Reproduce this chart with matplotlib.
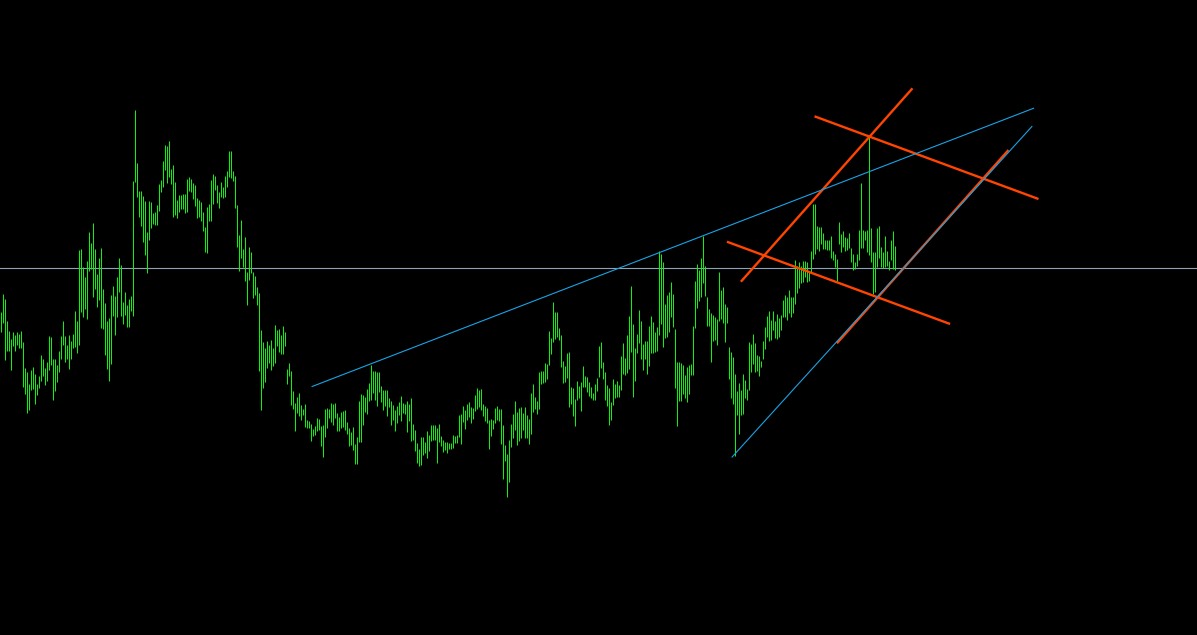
import numpy as np
import matplotlib
matplotlib.use('Agg')
import matplotlib.pyplot as plt

# ---- bar data (chart levels, larger value = lower on screen) ----
bar_high = [
    312, 294, 299, 321, 331, 339, 332, 335, 332, 334, 331, 342, 368, 372, 384, 370, 367, 374, 384, 376,
    355, 359, 368, 362, 336, 337, 359, 359, 365, 351, 336, 321, 336, 345, 335, 341, 334, 311, 321, 250,
    249, 267, 277, 261, 232, 243, 223, 249, 274, 258, 248, 289, 303, 321, 318, 295, 286, 296, 277, 258,
    265, 302, 292, 305, 299, 296, 181, 110, 163, 191, 191, 196, 201, 232, 201, 202, 213, 212, 205, 184,
    180, 161, 145, 146, 141, 169, 165, 182, 200, 195, 195, 194, 194, 179, 177, 179, 183, 185, 198, 200,
    202, 212, 227, 207, 204, 180, 174, 176, 185, 192, 182, 187, 176, 171, 151, 151, 171, 176, 205, 235,
    220, 249, 237, 272, 247, 252, 272, 276, 287, 293, 330, 342, 348, 341, 345, 340, 348, 325, 330, 329,
    335, 326, 332, 369, 363, 371, 391, 403, 397, 393, 405, 409, 404, 420, 421, 424, 429, 426, 418, 419,
    426, 425, 409, 408, 409, 403, 404, 403, 413, 417, 412, 411, 410, 422, 428, 432, 427, 444, 437, 401,
    394, 395, 397, 389, 383, 365, 371, 371, 372, 372, 386, 390, 390, 390, 398, 401, 405, 410, 406, 402,
    396, 403, 404, 401, 404, 398, 424, 430, 443, 449, 437, 437, 442, 431, 435, 425, 425, 425, 428, 424,
    436, 440, 442, 442, 443, 443, 435, 436, 435, 415, 414, 406, 410, 404, 402, 407, 408, 395, 388, 390,
    389, 404, 406, 408, 420, 419, 420, 408, 406, 409, 409, 425, 445, 454, 440, 424, 414, 401, 412, 408,
    407, 413, 407, 415, 419, 393, 384, 397, 401, 372, 371, 371, 363, 364, 331, 338, 302, 312, 312, 328,
    335, 361, 366, 353, 352, 387, 388, 399, 381, 386, 382, 366, 376, 377, 382, 387, 393, 384, 378, 346,
    342, 362, 372, 385, 388, 402, 379, 384, 381, 385, 356, 343, 358, 335, 316, 286, 324, 348, 334, 310,
    321, 344, 341, 341, 326, 316, 322, 332, 327, 251, 254, 262, 304, 295, 292, 282, 294, 329, 362, 362,
    363, 365, 375, 367, 365, 364, 326, 281, 264, 270, 258, 236, 266, 297, 309, 313, 315, 317, 319, 272,
    290, 287, 304, 307, 347, 352, 357, 374, 391, 383, 390, 374, 380, 389, 342, 344, 334, 343, 355, 356,
    361, 341, 327, 316, 311, 320, 311, 321, 314, 318, 315, 300, 295, 297, 290, 297, 297, 260, 266, 262,
    266, 261, 261, 262, 271, 251, 204, 204, 226, 227, 227, 233, 240, 240, 240, 236, 251, 254, 259, 222,
    234, 231, 237, 238, 233, 248, 254, 262, 254, 230, 183, 230, 231, 230, 137, 228, 252, 252, 228, 226,
    247, 252, 236, 251, 261, 240, 231, 246,
]
bar_low = [
    332, 323, 360, 351, 351, 370, 346, 351, 345, 348, 348, 387, 394, 413, 410, 390, 389, 404, 395, 388,
    381, 376, 385, 381, 370, 365, 400, 391, 382, 372, 359, 345, 362, 359, 369, 359, 348, 347, 353, 345,
    312, 317, 309, 319, 271, 269, 297, 289, 307, 300, 328, 329, 355, 369, 381, 364, 316, 335, 317, 292,
    316, 324, 315, 327, 327, 311, 316, 182, 197, 217, 226, 242, 255, 273, 240, 228, 224, 225, 225, 211,
    192, 187, 170, 183, 177, 184, 217, 215, 218, 212, 209, 209, 213, 212, 191, 192, 199, 206, 218, 217,
    221, 231, 252, 253, 221, 221, 204, 190, 203, 208, 197, 198, 197, 187, 177, 178, 181, 208, 247, 271,
    258, 267, 281, 305, 280, 273, 298, 295, 305, 371, 410, 388, 382, 368, 363, 370, 366, 363, 346, 352,
    354, 354, 346, 384, 376, 405, 409, 431, 413, 416, 420, 415, 427, 428, 428, 441, 436, 435, 431, 430,
    446, 457, 437, 428, 418, 422, 425, 418, 431, 431, 428, 427, 430, 434, 446, 445, 450, 464, 464, 442,
    442, 425, 412, 414, 401, 400, 393, 400, 406, 392, 402, 410, 406, 416, 407, 425, 420, 431, 423, 415,
    421, 413, 414, 432, 421, 441, 440, 451, 463, 466, 465, 455, 453, 458, 451, 441, 440, 440, 463, 442,
    446, 452, 450, 453, 449, 449, 448, 443, 443, 437, 444, 422, 429, 420, 417, 423, 419, 411, 409, 407,
    410, 416, 421, 423, 449, 436, 429, 423, 420, 421, 444, 479, 461, 497, 482, 447, 438, 430, 445, 441,
    438, 430, 438, 438, 444, 434, 412, 409, 414, 409, 384, 383, 382, 379, 365, 354, 342, 339, 337, 340,
    367, 383, 382, 378, 407, 404, 416, 426, 400, 398, 411, 387, 387, 392, 396, 398, 400, 400, 391, 377,
    368, 379, 400, 406, 425, 420, 405, 398, 397, 397, 390, 374, 375, 373, 369, 352, 397, 381, 353, 343,
    359, 370, 359, 374, 366, 353, 353, 352, 351, 335, 324, 347, 338, 337, 332, 317, 327, 388, 426, 401,
    401, 394, 398, 402, 394, 375, 375, 328, 308, 301, 297, 283, 296, 326, 326, 362, 341, 340, 345, 321,
    319, 323, 342, 323, 379, 398, 404, 456, 415, 434, 415, 414, 398, 400, 390, 372, 364, 372, 371, 376,
    367, 359, 349, 337, 341, 340, 330, 338, 339, 337, 330, 317, 317, 320, 313, 317, 313, 304, 293, 288,
    283, 282, 277, 282, 281, 273, 259, 254, 249, 251, 244, 249, 249, 250, 250, 258, 260, 267, 281, 244,
    252, 247, 251, 250, 248, 262, 270, 269, 266, 260, 248, 248, 240, 252, 255, 262, 294, 292, 267, 258,
    267, 268, 267, 266, 270, 260, 269, 270,
]
assert len(bar_high) == len(bar_low)

# horizontal level line
h_level = 268

# trend lines as (bar index, level) end points
blue_lines = [
    ((155.8, 386.5), (516.5, 108.3)),
    ((365.8, 457.0), (515.7, 126.5)),
]
red_lines = [
    ((370.2, 281.7), (456.0, 88.3)),
    ((407.0, 116.3), (519.0, 199.0)),
    ((363.2, 241.7), (474.8, 324.0)),
    ((418.2, 343.3), (504.0, 150.0)),
]

# ---- plot ----
fig = plt.figure(figsize=(11.97, 6.35), dpi=100, facecolor='black')
ax = fig.add_axes([0, 0, 1, 1])
ax.set_facecolor('black')

idx = np.arange(len(bar_high))
# 1 px wide bars (0.72 pt at 100 dpi), 2 px pitch
ax.vlines(idx, bar_high, bar_low, colors='#10F010', lw=0.72, snap=True, zorder=2)

ax.axhline(h_level, color='#8FA2B5', lw=0.8, zorder=1)

for (x0, y0), (x1, y1) in red_lines:
    ax.plot([x0, x1], [y0, y1], color='#FF4500', lw=1.7, solid_capstyle='butt', zorder=3)
for (x0, y0), (x1, y1) in blue_lines:
    ax.plot([x0, x1], [y0, y1], color='#1AA3E6', lw=0.8, zorder=4)

# two pixels per bar, bars centred on pixel columns
ax.set_xlim(-0.25, 598.25)
ax.set_ylim(635, 0)
ax.axis('off')

fig.savefig('out.png', dpi=100, facecolor='black')
